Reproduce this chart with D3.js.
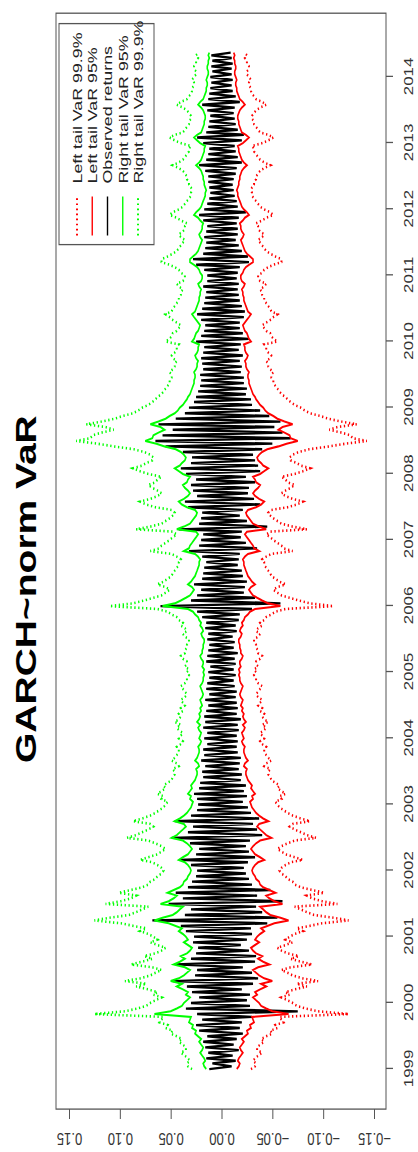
<!DOCTYPE html>
<html>
<head>
<meta charset="utf-8">
<script src="https://cdn.jsdelivr.net/npm/d3@7"></script>
<style>
  body { margin: 0; background: #fff; }
  svg { display: block; }
</style>
</head>
<body>
<div id="chart"></div>
<script>
// Years on the time axis
const years = [1999, 2000, 2001, 2002, 2003, 2004, 2005, 2006, 2007, 2008, 2009, 2010, 2011, 2012, 2013, 2014];

// Value axis ticks
const valueTicks = [-0.15, -0.10, -0.05, 0.00, 0.05, 0.10, 0.15];

// 95% VaR magnitude, two readings per month (1st and 16th), Jan 1999 - May 2014
const var95 = [
  .015, .017, .018, .016, .017, .019, .021, .019, .018, .020, .022, .020, .023, .026, .025, .029, .028, .032, .031, .030, .066, .050, .044, .039,
  .037, .034, .031, .035, .033, .038, .044, .039, .050, .042, .037, .034, .031, .036, .047, .041, .036, .040, .034, .031, .029, .033, .037, .033,
  .035, .038, .042, .039, .045, .052, .066, .058, .048, .044, .041, .038, .060, .052, .047, .044, .053, .047, .041, .038, .037, .034, .033, .031,
  .030, .031, .033, .036, .042, .038, .033, .031, .029, .031, .034, .038, .049, .044, .041, .038, .035, .037, .046, .041, .037, .034, .032, .030,
  .029, .028, .031, .030, .033, .031, .029, .030, .028, .026, .025, .024, .024, .025, .022, .023, .026, .024, .023, .022, .022, .023, .021, .020,
  .022, .021, .020, .022, .023, .021, .024, .022, .021, .022, .020, .021, .019, .020, .021, .019, .018, .019, .020, .021, .019, .018, .018, .017,
  .018, .017, .019, .018, .018, .020, .021, .019, .019, .018, .018, .017, .017, .019, .020, .018, .019, .021, .020, .022, .023, .026, .028, .033,
  .058, .046, .040, .035, .031, .029, .027, .029, .033, .030, .028, .026, .025, .024, .023, .022, .022, .021, .023, .026, .037, .032, .031, .029,
  .027, .025, .023, .025, .044, .037, .031, .029, .027, .025, .024, .026, .034, .039, .042, .037, .033, .031, .033, .036, .038, .034, .033, .031,
  .038, .042, .046, .041, .039, .036, .035, .037, .040, .045, .056, .064, .075, .068, .067, .062, .056, .060, .070, .062, .055, .051, .046, .043,
  .041, .038, .036, .034, .033, .031, .030, .029, .028, .027, .027, .026, .026, .027, .025, .024, .024, .023, .025, .026, .024, .023, .023, .022,
  .029, .027, .026, .025, .023, .022, .021, .023, .025, .027, .029, .026, .025, .024, .023, .022, .022, .021, .021, .020, .022, .023, .020, .019,
  .019, .021, .022, .024, .027, .031, .031, .028, .025, .023, .022, .021, .020, .019, .021, .022, .020, .019, .019, .018, .021, .023, .027, .025,
  .022, .020, .019, .018, .017, .016, .016, .015, .016, .017, .017, .018, .018, .019, .020, .022, .025, .022, .020, .019, .018, .017, .017, .016,
  .021, .024, .027, .024, .020, .019, .018, .017, .017, .016, .016, .017, .018, .020, .023, .021, .018, .017, .016, .015, .015, .014, .014, .015,
  .014, .013, .013, .014, .014, .013, .013, .012, .013, .012
];

// 99.9% VaR magnitude, same dates
const var999 = [
  .029, .033, .034, .031, .033, .036, .040, .035, .035, .038, .042, .039, .044, .050, .048, .055, .053, .061, .059, .057, .125, .095, .083, .074,
  .070, .065, .059, .067, .063, .072, .084, .074, .095, .080, .070, .065, .059, .068, .089, .078, .068, .076, .065, .059, .055, .063, .070, .063,
  .067, .072, .080, .074, .086, .099, .125, .110, .091, .084, .078, .072, .114, .099, .089, .084, .101, .089, .078, .072, .070, .065, .063, .059,
  .057, .059, .063, .068, .080, .072, .063, .059, .055, .059, .065, .072, .093, .084, .078, .072, .067, .070, .087, .078, .070, .065, .061, .057,
  .055, .053, .059, .057, .063, .059, .055, .057, .053, .049, .048, .046, .046, .048, .042, .044, .049, .046, .044, .042, .042, .044, .040, .038,
  .042, .040, .038, .042, .044, .040, .046, .042, .040, .042, .038, .040, .036, .038, .040, .036, .034, .036, .038, .040, .036, .034, .034, .032,
  .034, .032, .036, .034, .034, .038, .040, .036, .036, .034, .034, .032, .032, .036, .038, .034, .036, .040, .038, .042, .044, .049, .053, .063,
  .110, .087, .076, .067, .059, .055, .051, .055, .063, .057, .053, .049, .048, .046, .044, .042, .042, .040, .044, .049, .070, .061, .059, .055,
  .051, .048, .044, .048, .084, .070, .059, .055, .051, .048, .046, .049, .065, .074, .080, .070, .063, .059, .063, .068, .072, .065, .063, .059,
  .072, .080, .087, .078, .074, .068, .067, .070, .076, .086, .106, .122, .143, .129, .127, .118, .106, .114, .133, .118, .105, .097, .087, .082,
  .078, .072, .068, .065, .063, .059, .057, .055, .053, .051, .051, .049, .049, .051, .048, .046, .046, .044, .048, .049, .046, .044, .044, .042,
  .055, .051, .049, .048, .044, .042, .040, .044, .048, .051, .055, .049, .048, .046, .044, .042, .042, .040, .040, .038, .042, .044, .038, .036,
  .036, .040, .042, .046, .051, .059, .059, .053, .048, .044, .042, .040, .038, .036, .040, .042, .038, .036, .036, .034, .040, .044, .051, .048,
  .042, .038, .036, .034, .032, .030, .030, .029, .030, .032, .032, .034, .034, .036, .038, .042, .048, .042, .038, .036, .034, .032, .032, .030,
  .040, .046, .051, .046, .038, .036, .034, .032, .032, .030, .030, .032, .034, .038, .044, .040, .034, .032, .030, .029, .029, .027, .027, .029,
  .027, .025, .025, .027, .027, .025, .025, .023, .025, .023
];

// Observed returns, same dates
const returns = [
  .012, -.010, .009, -.014, .015, -.011, .013, -.017, .016, -.012, .018, -.015, .014, -.021, .022, -.018, .025, -.020, .019, -.030, .024, -.075, .035, -.028,
  .030, -.025, .022, -.028, .029, -.020, .034, -.031, .048, -.036, .026, -.030, .024, -.021, .045, -.033, .030, -.034, .025, -.027, .023, -.019, .028, -.025,
  .027, -.030, .035, -.029, .040, -.045, .068, -.055, .036, -.040, .030, -.034, .052, -.060, .038, -.035, .045, -.048, .033, -.030, .029, -.027, .025, -.024,
  .024, -.022, .030, -.026, .041, -.033, .025, -.027, .022, -.024, .031, -.028, .049, -.040, .033, -.035, .028, -.031, .046, -.037, .030, -.029, .024, -.026,
  .023, -.021, .024, -.025, .027, -.022, .022, -.024, .021, -.019, .018, -.020, .019, -.017, .016, -.018, .020, -.019, .017, -.016, .018, -.015, .014, -.016,
  .017, -.015, .014, -.017, .018, -.016, .016, -.019, .017, -.015, .015, -.016, .013, -.015, .016, -.014, .012, -.015, .015, -.013, .014, -.012, .012, -.014,
  .013, -.012, .011, -.014, .015, -.013, .014, -.016, .013, -.012, .012, -.013, .014, -.011, .013, -.015, .016, -.014, .015, -.017, .019, -.018, .024, -.030,
  .060, -.058, .030, -.033, .024, -.022, .020, -.023, .027, -.025, .019, -.021, .018, -.020, .017, -.016, .015, -.017, .019, -.018, .032, -.035, .022, -.024,
  .020, -.019, .018, -.020, .042, -.045, .022, -.025, .020, -.018, .019, -.021, .033, -.038, .036, -.032, .024, -.026, .028, -.027, .030, -.033, .025, -.024,
  .035, -.038, .040, -.036, .030, -.033, .029, -.031, .038, -.040, .055, -.050, .065, -.068, .058, -.060, .048, -.052, .062, -.058, .045, -.047, .036, -.038,
  .032, -.030, .027, -.029, .025, -.024, .023, -.025, .021, -.022, .020, -.022, .021, -.019, .018, -.020, .019, -.018, .020, -.021, .018, -.017, .017, -.019,
  .025, -.027, .020, -.021, .017, -.018, .016, -.018, .020, -.022, .024, -.023, .019, -.020, .017, -.018, .016, -.017, .015, -.016, .018, -.017, .014, -.015,
  .014, -.016, .017, -.018, .025, -.027, .028, -.026, .018, -.020, .016, -.017, .015, -.014, .017, -.016, .015, -.016, .014, -.015, .018, -.017, .022, -.024,
  .017, -.016, .014, -.015, .012, -.013, .011, -.012, .012, -.011, .013, -.012, .013, -.014, .016, -.015, .022, -.020, .015, -.016, .013, -.014, .012, -.013,
  .018, -.020, .024, -.022, .015, -.016, .013, -.014, .012, -.013, .011, -.012, .014, -.013, .019, -.018, .013, -.014, .012, -.011, .011, -.010, .010, -.011,
  .011, -.010, .009, -.010, .010, -.011, .009, -.010, .010, -.009
];

const legendLabels = ['Left tail VaR 99.9%', 'Left tail VaR 95%', 'Observed returns', 'Right tail VaR 95%', 'Right tail VaR 99.9%'];
const legendColors = ['#ff0000', '#ff0000', '#000000', '#00ff00', '#00ff00'];
const legendDotted = [true, false, false, false, true];

const W = 418, H = 1152;
const stretch = 1.3; // the picture is stretched along the time axis
const font = 'Liberation Sans, Arial, Helvetica, sans-serif';

const svg = d3.select('#chart').append('svg')
  .attr('width', W).attr('height', H)
  .style('background', '#fff');

// the plot is drawn landscape and turned a quarter turn
const g = svg.append('g')
  .attr('transform', `translate(0,${H}) rotate(-90) scale(${stretch},1)`)
  .style('font-family', font);

const box = { left: 33, right: 876, top: 56, bottom: 386 };

const dates = returns.map((d, i) => new Date(1999, Math.floor(i / 2), i % 2 ? 16 : 1));

const x = d3.scaleTime()
  .domain([new Date(1999, 0, 1), new Date(2014, 0, 1)])
  .range([63.8, 826.9]);

const y = d3.scaleLinear()
  .domain([-0.15, 0.15])
  .range([374, 69]);

const line = (sign) => d3.line().x((d, i) => x(dates[i])).y((d) => y(sign * d));

// Observed returns
g.append('path')
  .datum(returns)
  .attr('fill', 'none')
  .attr('stroke', '#000')
  .attr('stroke-width', 1.8)
  .attr('d', line(1));

// VaR lines
const series = [
  { data: var999, sign: -1, color: '#ff0000', dotted: true },
  { data: var95, sign: -1, color: '#ff0000', dotted: false },
  { data: var95, sign: 1, color: '#00ff00', dotted: false },
  { data: var999, sign: 1, color: '#00ff00', dotted: true },
];

series.forEach((s) => {
  g.append('path')
    .datum(s.data)
    .attr('fill', 'none')
    .attr('stroke', s.color)
    .attr('stroke-width', s.dotted ? 2 : 1.6)
    .attr('stroke-dasharray', s.dotted ? '1.3,2.6' : null)
    .attr('d', line(s.sign));
});

// Plot box
g.append('rect')
  .attr('x', box.left).attr('y', box.top)
  .attr('width', box.right - box.left).attr('height', box.bottom - box.top)
  .attr('fill', 'none').attr('stroke', '#555').attr('stroke-width', 1);

// Value axis (left in landscape)
const yAxis = g.append('g')
  .attr('transform', `translate(${box.left},0)`)
  .call(d3.axisLeft(y).tickValues(valueTicks).tickFormat(d3.format('.2f')).tickSize(7.7).tickSizeOuter(0));
yAxis.select('.domain').remove();
yAxis.selectAll('line').attr('stroke', '#555');
yAxis.selectAll('text')
  .attr('x', null).attr('dy', '0.35em')
  .attr('text-anchor', 'middle')
  .attr('transform', 'translate(-23,0) rotate(-90)')
  .style('font-size', '13px').style('font-family', font).attr('fill', '#333');

// Time axis (bottom in landscape)
const xAxis = g.append('g')
  .attr('transform', `translate(0,${box.bottom})`)
  .call(d3.axisBottom(x)
    .tickValues(years.map((yr) => new Date(yr, 0, 1)))
    .tickFormat(d3.timeFormat('%Y'))
    .tickSize(7).tickPadding(11).tickSizeOuter(0));
xAxis.select('.domain').remove();
xAxis.selectAll('line').attr('stroke', '#555');
xAxis.selectAll('text').style('font-size', '13px').style('font-family', font).attr('fill', '#333');

// Title
g.append('text')
  .attr('x', 433).attr('y', 26).attr('dy', '0.35em')
  .attr('text-anchor', 'middle')
  .style('font-size', '30px').style('font-weight', 'bold')
  .attr('fill', '#000')
  .text('GARCH~norm VaR');

// Legend
const lg = g.append('g');
lg.append('rect')
  .attr('x', 698).attr('y', 59).attr('width', 170).attr('height', 95)
  .attr('fill', '#fff').attr('stroke', '#555').attr('stroke-width', 1);

legendLabels.forEach((label, i) => {
  const ly = 77 + i * 15.25;
  lg.append('line')
    .attr('x1', 705).attr('x2', 735).attr('y1', ly).attr('y2', ly)
    .attr('stroke', legendColors[i])
    .attr('stroke-width', legendDotted[i] ? 2 : 1.4)
    .attr('stroke-dasharray', legendDotted[i] ? '1.3,2.6' : null);
  lg.append('text')
    .attr('x', 745).attr('y', ly).attr('dy', '0.35em')
    .style('font-size', '13.7px')
    .attr('fill', '#222')
    .text(label);
});
</script>
</body>
</html>
